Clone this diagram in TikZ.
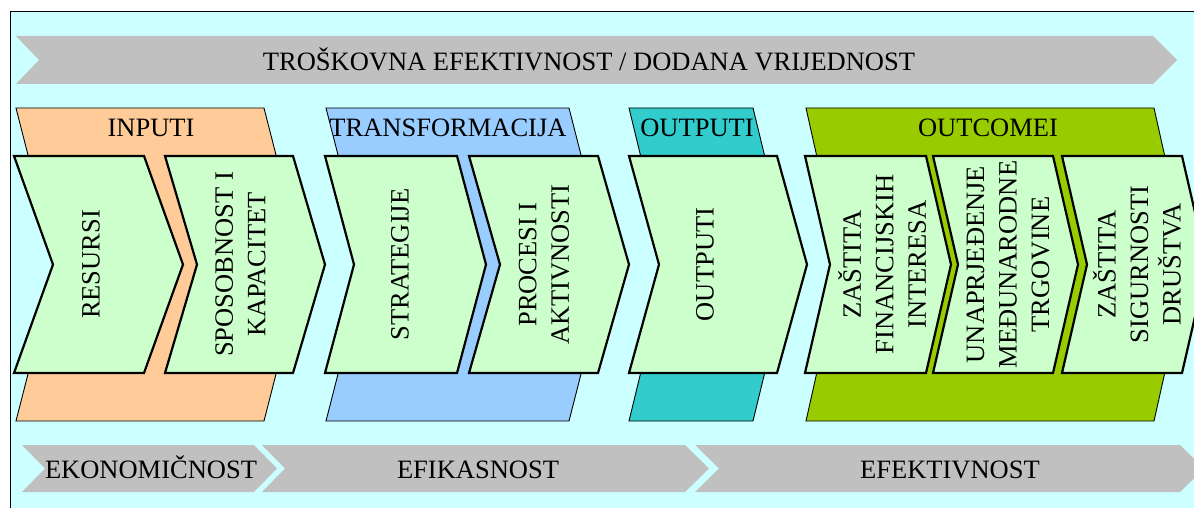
\documentclass[tikz,border=0pt]{standalone}
\usepackage{fontspec}
\setmainfont{Liberation Serif}
\definecolor{bgc}{HTML}{CCFFFF}
\definecolor{grayarr}{HTML}{C0C0C0}
\definecolor{orangeb}{HTML}{FFCC99}
\definecolor{blueb}{HTML}{99CCFF}
\definecolor{tealb}{HTML}{33CCCC}
\definecolor{greenb}{HTML}{99CC00}
\definecolor{greenc}{HTML}{CCFFCC}
% chevron: style, left x, right x, depth, top y, mid y, bottom y
\newcommand{\mychev}[7]{\path[#1] (#2,#5) -- (#3,#5) -- ({#3+#4},#6) -- (#3,#7) -- (#2,#7) -- ({#2+#4},#6) -- cycle;}
\tikzset{
  arrowbar/.style={fill=grayarr, draw=none},
  bandbox/.style={draw=black, line width=0.9pt},
  stepbox/.style={fill=greenc, draw=black, line width=2.2pt, line join=miter},
  lbl/.style={font=\fontsize{26.5}{32.5}\selectfont, inner sep=0pt, anchor=base},
  vlbl/.style={font=\fontsize{26.5}{32.5}\selectfont, inner sep=0pt, rotate=90, align=center}
}
\begin{document}
\begin{tikzpicture}[x=1pt,y=-1pt]
\useasboundingbox (0,0) rectangle (1194,508);
\clip (0,0) rectangle (1194,508);
% frame
\draw[fill=bgc, line width=1.2pt] (10.5,11.5) rectangle (1220,530);
% top arrow
\path[arrowbar] (16,36) -- (1153,36) -- (1177,60) -- (1153,84) -- (16,84) -- (39,60) -- cycle;
\node[lbl] (tv) at (589,71) {TROŠKOVNA EFEKTIVNOST / DODANA VRIJEDNOST};
% bottom arrows
\path[arrowbar] (22,445) -- (254,445) -- (277,468.5) -- (254,492) -- (22,492) -- (45,468.5) -- cycle;
\path[arrowbar] (262,445) -- (685,445) -- (709,468.5) -- (685,492) -- (262,492) -- (285,468.5) -- cycle;
\path[arrowbar] (695,445) -- (1180,445) -- (1204,468.5) -- (1180,492) -- (695,492) -- (719,468.5) -- cycle;
\node[lbl] (ek) at (151,478.5) {EKONOMIČNOST};
\node[lbl] (ef) at (478,478.5) {EFIKASNOST};
\node[lbl] (eft) at (950,478.5) {EFEKTIVNOST};
% group bands
\mychev{bandbox, fill=orangeb}{16}{264}{40}{108}{264.5}{421}
\mychev{bandbox, fill=blueb}{326}{569}{40}{108}{264.5}{421}
\mychev{bandbox, fill=tealb}{629}{753}{38}{108}{264.5}{421}
\mychev{bandbox, fill=greenb}{806}{1154}{35}{108}{264.5}{421}
\node[lbl] (gin) at (151,137) {INPUTI};
\node[lbl] (gtr) at (448,137) {TRANSFORMACIJA};
\node[lbl] (gout) at (697,137) {OUTPUTI};
\node[lbl] (goc) at (988,137) {OUTCOMEI};
% green steps
\mychev{stepbox}{14}{144}{39}{156}{264.5}{373}
\mychev{stepbox}{165}{293}{32}{156}{264.5}{373}
\mychev{stepbox}{325}{457}{29}{156}{264.5}{373}
\mychev{stepbox}{469}{598}{31}{156}{264.5}{373}
\mychev{stepbox}{629}{777}{30}{156}{264.5}{373}
\mychev{stepbox}{805}{926}{25}{156}{264.5}{373}
\mychev{stepbox}{933}{1053}{25}{156}{264.5}{373}
\mychev{stepbox}{1062}{1182}{25}{156}{264.5}{373}
\node[vlbl] (s1) at (91,264.5) {RESURSI};
\node[vlbl] (s2) at (240.5,264.5) {SPOSOBNOST I\\KAPACITET};
\node[vlbl] (s3) at (400,264.5) {STRATEGIJE};
\node[vlbl] (s4) at (544,264.5) {PROCESI I\\AKTIVNOSTI};
\node[vlbl] (s5) at (705,264.5) {OUTPUTI};
\node[vlbl] (s6) at (882,264.5) {ZAŠTITA\\FINANCIJSKIH\\INTERESA};
\node[vlbl] (s7) at (1008,264.5) {UNAPRJEĐENJE\\MEĐUNARODNE\\TRGOVINE};
\node[vlbl] (s8) at (1137,264.5) {ZAŠTITA\\SIGURNOSTI\\DRUŠTVA};
\end{tikzpicture}
\end{document}
